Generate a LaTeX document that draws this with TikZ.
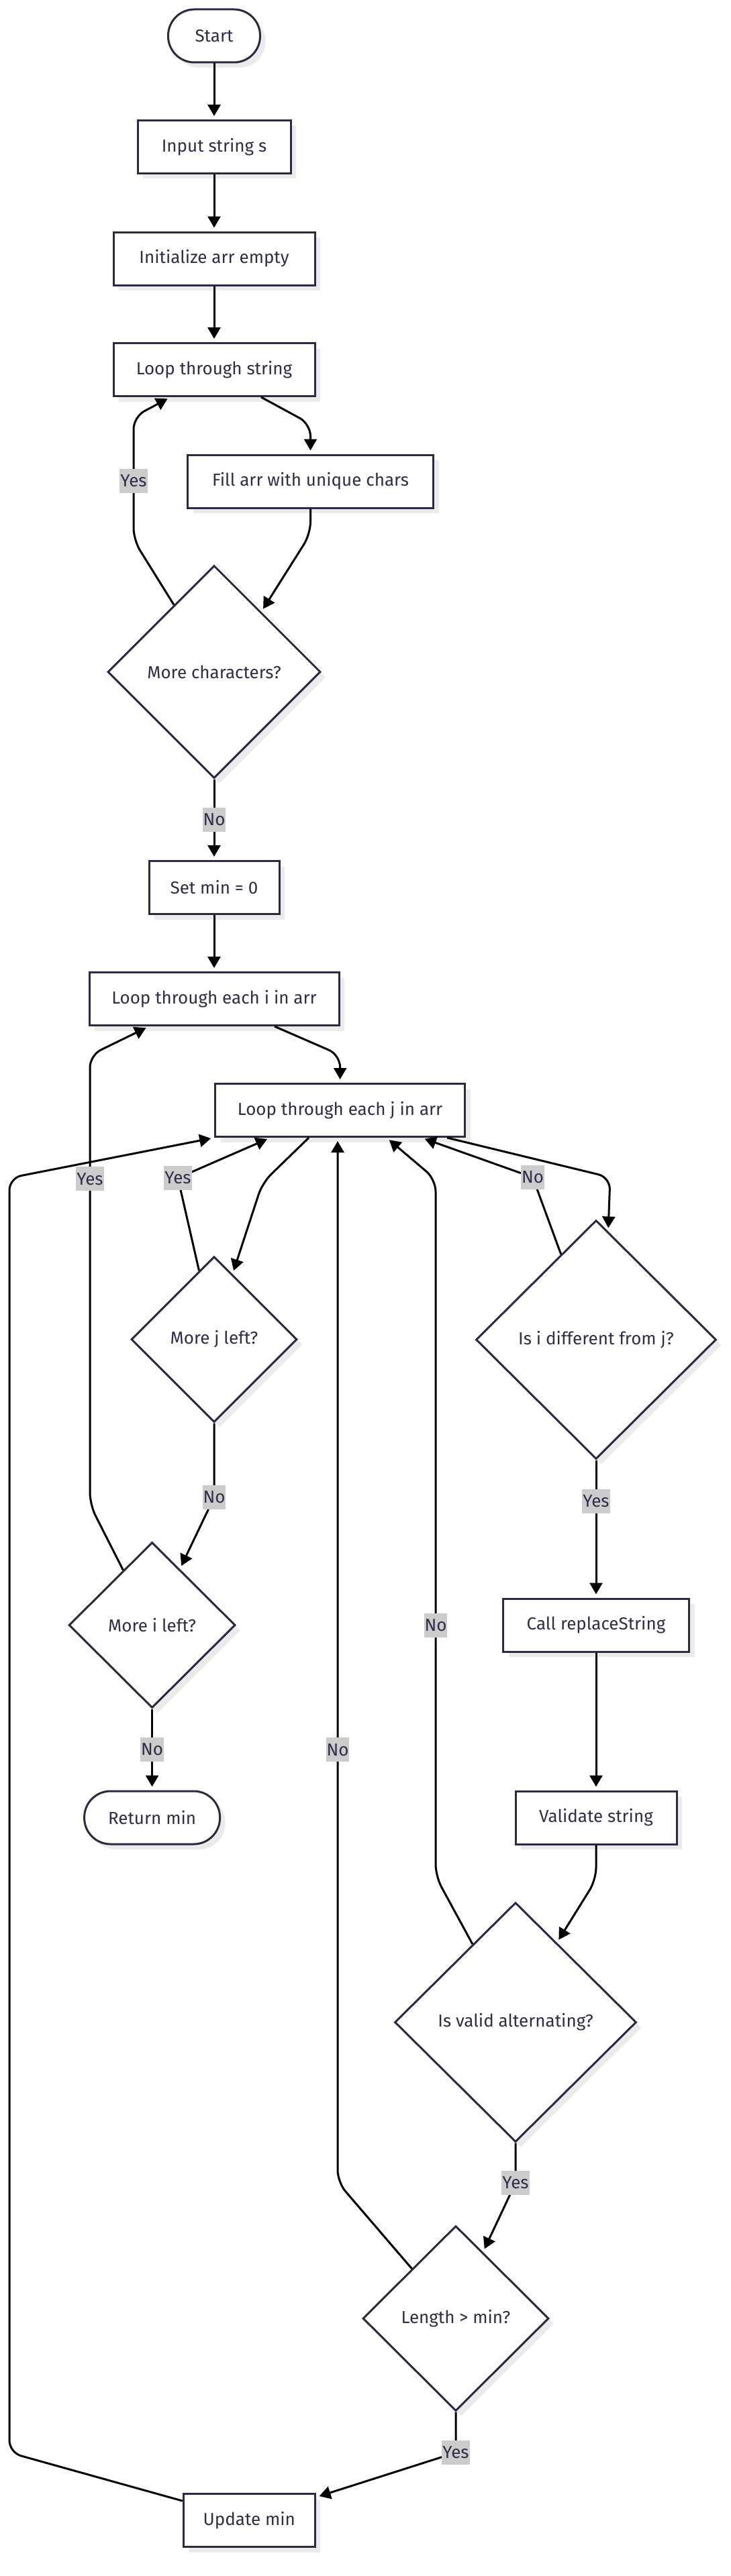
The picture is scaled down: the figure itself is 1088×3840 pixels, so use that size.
\documentclass[tikz,border=0pt]{standalone}
\usepackage{fontspec}
\setmainfont{Fira Sans}
\usetikzlibrary{shapes.geometric,arrows.meta,shadows,calc}
\definecolor{nodeborder}{HTML}{2A2A40}
\definecolor{textc}{HTML}{2E2E4A}
\definecolor{shadowc}{HTML}{EBEBEB}
\definecolor{labelc}{HTML}{CCCCCC}
\begin{document}
\begin{tikzpicture}[x=1pt,y=-1pt,
  base/.style={draw=nodeborder, line width=3pt, fill=white, text=textc,
    font=\fontsize{26}{30}\selectfont,
    general shadow={fill=shadowc, shadow xshift=8pt, shadow yshift=-8pt}},
  box/.style={base, rectangle, minimum height=79pt, inner sep=0pt},
  term/.style={box, rounded corners=39pt},
  dec/.style={base, diamond, inner sep=0pt},
  conn/.style={line width=3pt, black, -{Triangle[length=17pt,width=19pt]},
    shorten >=5pt, rounded corners=18pt},
  lab/.style={fill=labelc, text=textc, sharp corners, font=\fontsize{26}{30}\selectfont,
    inner xsep=1pt, inner ysep=0pt, minimum height=36pt}
]
\useasboundingbox (0,0) rectangle (1088,3840);

% nodes
\node[term, minimum width=137pt] (start) at (319,53.5) {Start};
\node[box, minimum width=228pt] (input) at (319,219) {Input string s};
\node[box, minimum width=300pt] (init) at (319,385.5) {Initialize arr empty};
\node[box, minimum width=300pt] (ls) at (319,551) {Loop through string};
\node[box, minimum width=366pt] (fillarr) at (462.5,717.5) {Fill arr with unique chars};
\node[dec, minimum width=317pt, minimum height=317pt] (mc) at (319,1001.5) {More characters?};
\node[box, minimum width=194pt] (setmin) at (319,1323) {Set min = 0};
\node[box, minimum width=372pt] (li) at (319,1489) {Loop through each i in arr};
\node[box, minimum width=372pt] (lj) at (506.6,1655) {Loop through each j in arr};
\node[dec, minimum width=247pt, minimum height=247pt] (mj) at (319,1996.5) {More j left?};
\node[dec, minimum width=358pt, minimum height=356pt] (id) at (888,1997) {Is i different from j?};
\node[dec, minimum width=248pt, minimum height=247pt] (mi) at (226.6,2422.5) {More i left?};
\node[box, minimum width=277pt] (cr) at (888,2422.5) {Call replaceString};
\node[term, minimum width=202pt] (rm) at (226.6,2709.5) {Return min};
\node[box, minimum width=240pt] (vs) at (888,2709.5) {Validate string};
\node[dec, minimum width=360pt, minimum height=357pt] (va) at (768,3014.5) {Is valid alternating?};
\node[dec, minimum width=277pt, minimum height=276pt] (lm) at (679,3456) {Length > min?};
\node[box, minimum width=196pt] (um) at (371.3,3757) {Update min};

% connectors
\draw[conn] (start.south) -- (input.north);
\draw[conn] (input.south) -- (init.north);
\draw[conn] (init.south) -- (ls.north);
\draw[conn] ([xshift=70pt]ls.south) -- (462.5,632) -- (fillarr.north);
\draw[conn] (fillarr.south) -- (462.5,796) -- ($(mc.north)!0.44!(mc.east)$);
\draw[conn] ($(mc.north)!0.375!(mc.west)$) -- (199,805) -- node[lab,pos=0.48]{Yes} (199,621.5) -- ([xshift=-65pt]ls.south);
\draw[conn] (mc.south) -- node[lab]{No} (setmin.north);
\draw[conn] (setmin.south) -- (li.north);
\draw[conn] ([xshift=90pt]li.south) -- (506.6,1572.5) -- (lj.north);
\draw[conn] ([xshift=-46.6pt]lj.south) -- (391,1763) -- ($(mj.north)!0.22!(mj.east)$);
\draw[conn] ($(mj.north)!0.18!(mj.west)$) -- (265,1756) node[lab]{Yes} -- ([xshift=-104pt]lj.south);
\draw[conn] (mj.south) -- (319,2232) node[lab]{No} -- ($(mi.north)!0.33!(mi.east)$);
\draw[conn] ($(mi.north)!0.344!(mi.west)$) -- (134,2243) -- node[lab,pos=0.725]{Yes} (134,1573) -- ([xshift=-97pt]li.south);
\draw[conn] (mi.south) -- node[lab]{No} (rm.north);
\draw[conn] ([xshift=159.6pt]lj.south) -- (909,1755) -- ($(id.north)!0.1!(id.east)$);
\draw[conn] ($(id.north)!0.29!(id.west)$) -- (793.6,1755) node[lab]{No} -- ([xshift=121.4pt]lj.south);
\draw[conn] (id.south) -- node[lab,pos=0.3]{Yes} (cr.north);
\draw[conn] (cr.south) -- (vs.north);
\draw[conn] (vs.south) -- (888,2802) -- ($(va.north)!0.34!(va.east)$);
\draw[conn] ($(va.north)!0.353!(va.west)$) -- (649,2797) -- node[lab,pos=0.36]{No} (649,1758) -- ([xshift=69.4pt]lj.south);
\draw[conn] (va.south) -- (768,3254) node[lab]{Yes} -- ($(lm.north)!0.29!(lm.east)$);
\draw[conn] ($(lm.north)!0.468!(lm.west)$) -- (503,3253) -- node[lab,pos=0.414]{No} ([xshift=-3.6pt]lj.south);
\draw[conn] (lm.south) -- (679,3656) node[lab]{Yes} -- ([yshift=-6.5pt]um.north east);
\draw[conn] ([yshift=-12pt]um.north west) -- (14,3656) -- (14,1756) -- (lj.south west);
\end{tikzpicture}
\end{document}
